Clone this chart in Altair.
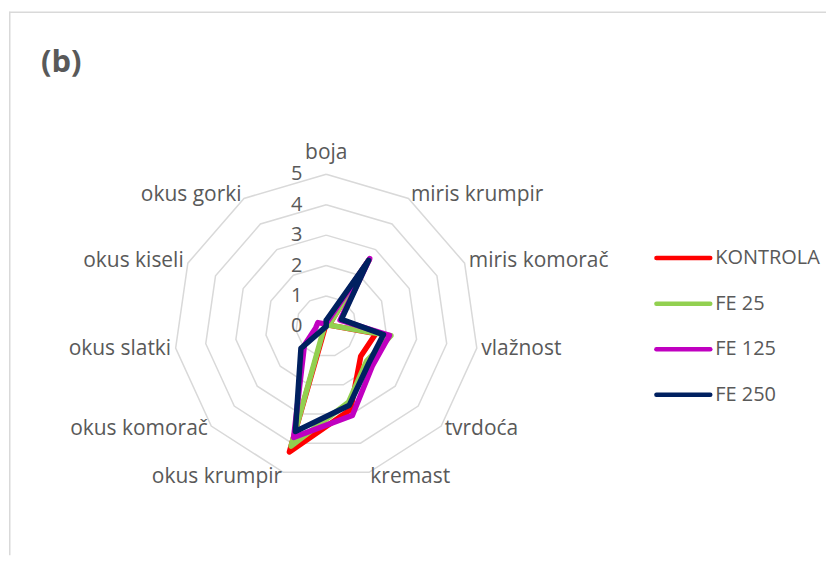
import altair as alt
import pandas as pd

categories = ["boja", "miris krumpir", "miris komorač", "vlažnost", "tvrdoća", "kremast",
              "okus krumpir", "okus komorač", "okus slatki", "okus kiseli", "okus gorki"]
series = ["KONTROLA", "FE 25", "FE 125", "FE 250"]
kontrola = [0.1, 2.6, 0.1, 1.65, 1.5, 2.85, 4.3, 0.05, 0.0, 0.0, 0.0]
fe25 = [0.1, 2.6, 0.1, 2.15, 1.75, 2.6, 4.1, 0.1, 0.0, 0.0, 0.0]
fe125 = [0.1, 2.65, 0.5, 2.1, 2.0, 3.05, 3.8, 0.95, 0.35, 0.3, 0.1]
fe250 = [0.2, 2.58, 0.55, 1.9, 1.85, 2.7, 3.6, 1.1, 0.0, 0.0, 0.0]
ticks = [0, 1, 2, 3, 4, 5]
colors = ["#ff0000", "#92d050", "#c000c0", "#002060"]

values = [kontrola, fe25, fe125, fe250]
N = len(categories)

# geometry (pixels inside plot area)
U = 30.5
W, H = 819, 548
CX, CY = 318, 318.5
xs = alt.Scale(domain=[-CX / U, (W - CX) / U], nice=False, zero=False)
ys = alt.Scale(domain=[-(H - CY) / U, CY / U], nice=False, zero=False)
GREY = "#595959"
FONT = "Open Sans"

def px_x(p):
    return (p - 8 - CX) / U

def px_y(p):
    return (CY - (p - 8)) / U

ANG = f"datum.k*2*PI/{N}"

# grid rings
ring_rows = [dict(level=l, k=k) for l in ticks[1:] for k in range(N + 1)]
rings = alt.Chart(pd.DataFrame(ring_rows)).transform_calculate(
    ang=ANG, gx="datum.level*sin(datum.ang)", gy="datum.level*cos(datum.ang)"
).mark_line(color="#d9d9d9", strokeWidth=1.5).encode(
    x=alt.X("gx:Q", scale=xs, axis=None),
    y=alt.Y("gy:Q", scale=ys, axis=None),
    detail="level:N",
    order="k:Q",
)

# tick labels
tick_labels = alt.Chart(pd.DataFrame({"t": ticks})).transform_calculate(
    tx=str(-24 / U), lab="''+datum.t"
).mark_text(align="right", baseline="middle", fontSize=20, font=FONT, color=GREY).encode(
    x=alt.X("tx:Q", scale=xs, axis=None),
    y=alt.Y("t:Q", scale=ys, axis=None),
    text="lab:N",
)

# category labels
cat_df = pd.DataFrame({"cat": categories, "k": list(range(N))})
RL = 5.15
def cat_layer(lo, hi, align, dy=0):
    return alt.Chart(cat_df).transform_filter(
        f"datum.k >= {lo} && datum.k <= {hi}"
    ).transform_calculate(
        ang=ANG, cx=f"{RL}*sin(datum.ang)", cy=f"{RL}*cos(datum.ang)"
    ).mark_text(align=align, baseline="middle", fontSize=21, font=FONT, color=GREY, dy=dy).encode(
        x=alt.X("cx:Q", scale=xs, axis=None),
        y=alt.Y("cy:Q", scale=ys, axis=None),
        text="cat:N",
    )

cat_top = cat_layer(0, 0, "center", dy=-17)
cat_right = cat_layer(1, 5, "left")
cat_left = cat_layer(6, 10, "right")

# data series
line_layers = []
for s, vals, c in zip(series, values, colors):
    rows = [dict(series=s, k=k, v=vals[k % N]) for k in range(N + 1)]
    line_layers.append(
        alt.Chart(pd.DataFrame(rows)).transform_calculate(
            ang=ANG, px="datum.v*sin(datum.ang)", py="datum.v*cos(datum.ang)"
        ).mark_line(color=c, strokeWidth=5.5, strokeJoin="round", strokeCap="round").encode(
            x=alt.X("px:Q", scale=xs, axis=None),
            y=alt.Y("py:Q", scale=ys, axis=None),
            order="k:Q",
        )
    )

# legend
leg_df = pd.DataFrame({
    "series": series,
    "x1": [px_x(657)] * 4,
    "x2": [px_x(711)] * 4,
    "xt": [px_x(716)] * 4,
    "y": [px_y(258 + i * 45.7) for i in range(4)],
})
cscale = alt.Scale(domain=series, range=colors)
leg_rules = alt.Chart(leg_df).mark_rule(strokeWidth=4.5, strokeCap="round").encode(
    x=alt.X("x1:Q", scale=xs, axis=None),
    x2="x2:Q",
    y=alt.Y("y:Q", scale=ys, axis=None),
    color=alt.Color("series:N", scale=cscale, legend=None),
)
leg_text = alt.Chart(leg_df).mark_text(
    align="left", baseline="middle", fontSize=20, font=FONT, color=GREY
).encode(
    x=alt.X("xt:Q", scale=xs, axis=None),
    y=alt.Y("y:Q", scale=ys, axis=None),
    text="series:N",
)

# title and border
title = alt.Chart(pd.DataFrame({"t": ["(b)"]})).mark_text(
    align="left", baseline="middle", fontSize=31, fontWeight="bold", font=FONT, color=GREY
).encode(x=alt.value(32), y=alt.value(54), text="t:N")

border_left = alt.Chart(pd.DataFrame({"a": [0]})).mark_rule(color="#d9d9d9", strokeWidth=1.5).encode(
    x=alt.value(0.75), y=alt.value(3), y2=alt.value(H)
)
border_top = alt.Chart(pd.DataFrame({"a": [0]})).mark_rule(color="#d9d9d9", strokeWidth=1.5).encode(
    x=alt.value(0), x2=alt.value(W), y=alt.value(3.5)
)

chart = alt.layer(
    border_left, border_top, rings, tick_labels, cat_top, cat_right, cat_left,
    *line_layers, leg_rules, leg_text, title
).properties(width=W, height=H, padding=0).configure_view(stroke=None)

chart.save("out.html", embed_options={"renderer": "svg", "actions": False})
